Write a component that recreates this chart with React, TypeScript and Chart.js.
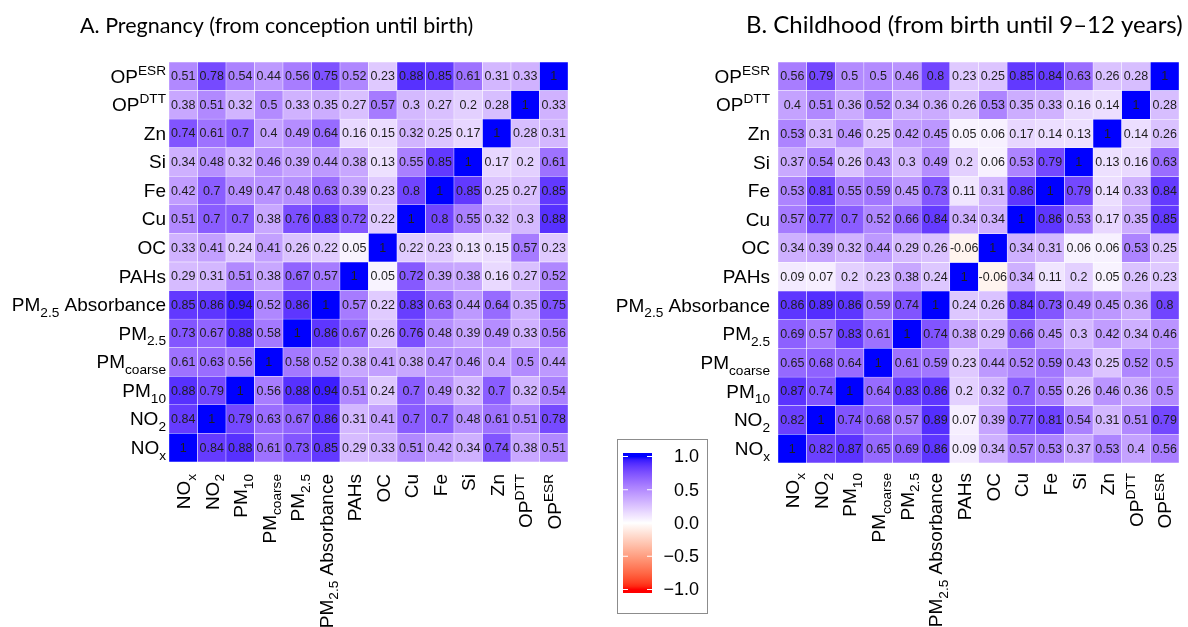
import React, { useEffect, useRef } from "react";
import { Chart, registerables } from "chart.js";

Chart.register(...registerables);

// ---------- categories ----------
const variables = [
  "NOx", "NO2", "PM10", "PMcoarse", "PM2.5", "PM2.5 Absorbance", "PAHs",
  "OC", "Cu", "Fe", "Si", "Zn", "OPDTT", "OPESR",
];

// rich label segments (n = normal, sub = subscript, sup = superscript)
const labelSegments: { text: string; kind: "n" | "sub" | "sup" }[][] = [
  [{ text: "NO", kind: "n" }, { text: "x", kind: "sub" }],
  [{ text: "NO", kind: "n" }, { text: "2", kind: "sub" }],
  [{ text: "PM", kind: "n" }, { text: "10", kind: "sub" }],
  [{ text: "PM", kind: "n" }, { text: "coarse", kind: "sub" }],
  [{ text: "PM", kind: "n" }, { text: "2.5", kind: "sub" }],
  [{ text: "PM", kind: "n" }, { text: "2.5", kind: "sub" }, { text: " Absorbance", kind: "n" }],
  [{ text: "PAHs", kind: "n" }],
  [{ text: "OC", kind: "n" }],
  [{ text: "Cu", kind: "n" }],
  [{ text: "Fe", kind: "n" }],
  [{ text: "Si", kind: "n" }],
  [{ text: "Zn", kind: "n" }],
  [{ text: "OP", kind: "n" }, { text: "DTT", kind: "sup" }],
  [{ text: "OP", kind: "n" }, { text: "ESR", kind: "sup" }],
];

// ---------- A. Pregnancy (rows, columns in order of `variables`) ----------
const pregNOx = [1, 0.84, 0.88, 0.61, 0.73, 0.85, 0.29, 0.33, 0.51, 0.42, 0.34, 0.74, 0.38, 0.51];
const pregNO2 = [0.84, 1, 0.79, 0.63, 0.67, 0.86, 0.31, 0.41, 0.7, 0.7, 0.48, 0.61, 0.51, 0.78];
const pregPM10 = [0.88, 0.79, 1, 0.56, 0.88, 0.94, 0.51, 0.24, 0.7, 0.49, 0.32, 0.7, 0.32, 0.54];
const pregPMcoarse = [0.61, 0.63, 0.56, 1, 0.58, 0.52, 0.38, 0.41, 0.38, 0.47, 0.46, 0.4, 0.5, 0.44];
const pregPM25 = [0.73, 0.67, 0.88, 0.58, 1, 0.86, 0.67, 0.26, 0.76, 0.48, 0.39, 0.49, 0.33, 0.56];
const pregPM25Abs = [0.85, 0.86, 0.94, 0.52, 0.86, 1, 0.57, 0.22, 0.83, 0.63, 0.44, 0.64, 0.35, 0.75];
const pregPAHs = [0.29, 0.31, 0.51, 0.38, 0.67, 0.57, 1, 0.05, 0.72, 0.39, 0.38, 0.16, 0.27, 0.52];
const pregOC = [0.33, 0.41, 0.24, 0.41, 0.26, 0.22, 0.05, 1, 0.22, 0.23, 0.13, 0.15, 0.57, 0.23];
const pregCu = [0.51, 0.7, 0.7, 0.38, 0.76, 0.83, 0.72, 0.22, 1, 0.8, 0.55, 0.32, 0.3, 0.88];
const pregFe = [0.42, 0.7, 0.49, 0.47, 0.48, 0.63, 0.39, 0.23, 0.8, 1, 0.85, 0.25, 0.27, 0.85];
const pregSi = [0.34, 0.48, 0.32, 0.46, 0.39, 0.44, 0.38, 0.13, 0.55, 0.85, 1, 0.17, 0.2, 0.61];
const pregZn = [0.74, 0.61, 0.7, 0.4, 0.49, 0.64, 0.16, 0.15, 0.32, 0.25, 0.17, 1, 0.28, 0.31];
const pregOPDTT = [0.38, 0.51, 0.32, 0.5, 0.33, 0.35, 0.27, 0.57, 0.3, 0.27, 0.2, 0.28, 1, 0.33];
const pregOPESR = [0.51, 0.78, 0.54, 0.44, 0.56, 0.75, 0.52, 0.23, 0.88, 0.85, 0.61, 0.31, 0.33, 1];

// ---------- B. Childhood ----------
const childNOx = [1, 0.82, 0.87, 0.65, 0.69, 0.86, 0.09, 0.34, 0.57, 0.53, 0.37, 0.53, 0.4, 0.56];
const childNO2 = [0.82, 1, 0.74, 0.68, 0.57, 0.89, 0.07, 0.39, 0.77, 0.81, 0.54, 0.31, 0.51, 0.79];
const childPM10 = [0.87, 0.74, 1, 0.64, 0.83, 0.86, 0.2, 0.32, 0.7, 0.55, 0.26, 0.46, 0.36, 0.5];
const childPMcoarse = [0.65, 0.68, 0.64, 1, 0.61, 0.59, 0.23, 0.44, 0.52, 0.59, 0.43, 0.25, 0.52, 0.5];
const childPM25 = [0.69, 0.57, 0.83, 0.61, 1, 0.74, 0.38, 0.29, 0.66, 0.45, 0.3, 0.42, 0.34, 0.46];
const childPM25Abs = [0.86, 0.89, 0.86, 0.59, 0.74, 1, 0.24, 0.26, 0.84, 0.73, 0.49, 0.45, 0.36, 0.8];
const childPAHs = [0.09, 0.07, 0.2, 0.23, 0.38, 0.24, 1, -0.06, 0.34, 0.11, 0.2, 0.05, 0.26, 0.23];
const childOC = [0.34, 0.39, 0.32, 0.44, 0.29, 0.26, -0.06, 1, 0.34, 0.31, 0.06, 0.06, 0.53, 0.25];
const childCu = [0.57, 0.77, 0.7, 0.52, 0.66, 0.84, 0.34, 0.34, 1, 0.86, 0.53, 0.17, 0.35, 0.85];
const childFe = [0.53, 0.81, 0.55, 0.59, 0.45, 0.73, 0.11, 0.31, 0.86, 1, 0.79, 0.14, 0.33, 0.84];
const childSi = [0.37, 0.54, 0.26, 0.43, 0.3, 0.49, 0.2, 0.06, 0.53, 0.79, 1, 0.13, 0.16, 0.63];
const childZn = [0.53, 0.31, 0.46, 0.25, 0.42, 0.45, 0.05, 0.06, 0.17, 0.14, 0.13, 1, 0.14, 0.26];
const childOPDTT = [0.4, 0.51, 0.36, 0.52, 0.34, 0.36, 0.26, 0.53, 0.35, 0.33, 0.16, 0.14, 1, 0.28];
const childOPESR = [0.56, 0.79, 0.5, 0.5, 0.46, 0.8, 0.23, 0.25, 0.85, 0.84, 0.63, 0.26, 0.28, 1];

const legendTicks = [1, 0.5, 0, -0.5, -1];

const titleA = "A. Pregnancy (from conception until birth)";
const titleB = "B. Childhood (from birth until 9\u201312 years)";

// matrices: row order bottom (NOx) to top (OPESR)
const pregnancyMatrix = [
  pregNOx, pregNO2, pregPM10, pregPMcoarse, pregPM25, pregPM25Abs, pregPAHs,
  pregOC, pregCu, pregFe, pregSi, pregZn, pregOPDTT, pregOPESR,
];
const childhoodMatrix = [
  childNOx, childNO2, childPM10, childPMcoarse, childPM25, childPM25Abs, childPAHs,
  childOC, childCu, childFe, childSi, childZn, childOPDTT, childOPESR,
];

// ---------- colour: Lab interpolation red - white - blue ----------
const Xn = 0.95047, Yn = 1.0, Zn = 1.08883;
function toLin(c: number) {
  c /= 255;
  return c <= 0.04045 ? c / 12.92 : Math.pow((c + 0.055) / 1.055, 2.4);
}
function fromLin(c: number) {
  c = Math.min(1, Math.max(0, c));
  return 255 * (c <= 0.0031308 ? 12.92 * c : 1.055 * Math.pow(c, 1 / 2.4) - 0.055);
}
function rgbToLab(rgb: number[]) {
  const r = toLin(rgb[0]), g = toLin(rgb[1]), b = toLin(rgb[2]);
  const X = 0.4124564 * r + 0.3575761 * g + 0.1804375 * b;
  const Y = 0.2126729 * r + 0.7151522 * g + 0.072175 * b;
  const Z = 0.0193339 * r + 0.119192 * g + 0.9503041 * b;
  const f = (t: number) => (t > 216 / 24389 ? Math.cbrt(t) : (24389 / 27 * t + 16) / 116);
  const fx = f(X / Xn), fy = f(Y / Yn), fz = f(Z / Zn);
  return [116 * fy - 16, 500 * (fx - fy), 200 * (fy - fz)];
}
function labToRgb(lab: number[]) {
  const fy = (lab[0] + 16) / 116;
  const fx = fy + lab[1] / 500;
  const fz = fy - lab[2] / 200;
  const inv = (t: number) => (t * t * t > 216 / 24389 ? t * t * t : (116 * t - 16) / (24389 / 27));
  const X = Xn * inv(fx), Y = Yn * inv(fy), Z = Zn * inv(fz);
  const r = 3.2404542 * X - 1.5371385 * Y - 0.4985314 * Z;
  const g = -0.969266 * X + 1.8760108 * Y + 0.041556 * Z;
  const b = 0.0556434 * X - 0.2040259 * Y + 1.0572252 * Z;
  return [fromLin(r), fromLin(g), fromLin(b)];
}
const LAB_WHITE = rgbToLab([255, 255, 255]);
const LAB_BLUE = rgbToLab([0, 0, 255]);
const LAB_RED = rgbToLab([255, 0, 0]);
function corrColor(v: number) {
  const t = Math.min(1, Math.abs(v));
  const end = v >= 0 ? LAB_BLUE : LAB_RED;
  const lab = LAB_WHITE.map((w, i) => w + (end[i] - w) * t);
  const [r, g, b] = labToRgb(lab);
  return `rgb(${Math.round(r)},${Math.round(g)},${Math.round(b)})`;
}

// ---------- text helpers ----------
const FONT = '"Liberation Sans", Arial, Helvetica, sans-serif';
const TITLE_FONT = 'Lato, "Open Sans", sans-serif';
const LABEL_SIZE = 19;
const CELL_SIZE = 12.5;

function drawRich(
  ctx: CanvasRenderingContext2D,
  segs: { text: string; kind: string }[],
  x: number,
  y: number,
  fs: number,
  align: "left" | "right" | "center"
) {
  const parts = segs.map((s) => ({ ...s, size: s.kind === "n" ? fs : fs * 0.72, w: 0 }));
  let total = 0;
  for (const p of parts) {
    ctx.font = `${p.size}px ${FONT}`;
    p.w = ctx.measureText(p.text).width;
    total += p.w;
  }
  let cx = align === "right" ? x - total : align === "center" ? x - total / 2 : x;
  const base = y + fs * 0.716 / 2;
  ctx.textAlign = "left";
  ctx.textBaseline = "alphabetic";
  for (const p of parts) {
    ctx.font = `${p.size}px ${FONT}`;
    const dy = p.kind === "sub" ? fs * 0.3 : p.kind === "sup" ? -fs * 0.42 : 0;
    ctx.fillText(p.text, cx, base + dy);
    cx += p.w;
  }
}

type PanelOpts = {
  padding: { left: number; right: number; top: number; bottom: number };
  title: string;
  titleX: number;
  titleSize: number;
  rowGap: number;
  colGap: number;
  legendX?: number;
};

function makeChart(canvas: HTMLCanvasElement, matrix: number[][], opts: PanelOpts) {
  const labelsPlugin = {
    id: "heatLabels",
    afterDatasetsDraw(chart: any) {
      const ctx: CanvasRenderingContext2D = chart.ctx;
      ctx.save();
      ctx.fillStyle = "#1e1e1e";
      ctx.font = `${CELL_SIZE}px ${FONT}`;
      ctx.textAlign = "center";
      ctx.textBaseline = "middle";
      chart.data.datasets.forEach((ds: any, i: number) => {
        const meta = chart.getDatasetMeta(i);
        meta.data.forEach((el: any, j: number) => {
          const v = ds.corr[j];
          const p = el.getProps(["x", "y", "base"], true);
          ctx.fillText(String(v), p.x, (p.y + p.base) / 2 + 0.5);
        });
      });
      ctx.restore();
    },
    afterDraw(chart: any) {
      const ctx: CanvasRenderingContext2D = chart.ctx;
      const area = chart.chartArea;
      const xs = chart.scales.x;
      const ys = chart.scales.y;
      ctx.save();
      ctx.fillStyle = "#000000";
      // row labels
      variables.forEach((_, i) => {
        const y = ys.getPixelForValue(i + 0.5);
        drawRich(ctx, labelSegments[i], area.left - opts.rowGap, y - 0.5, LABEL_SIZE, "right");
      });
      // column labels (rotated)
      variables.forEach((_, i) => {
        const x = xs.getPixelForValue(i);
        ctx.save();
        ctx.translate(x, area.bottom + opts.colGap);
        ctx.rotate(-Math.PI / 2);
        drawRich(ctx, labelSegments[i], 0, 0, LABEL_SIZE, "right");
        ctx.restore();
      });
      // title
      ctx.font = `${opts.titleSize}px ${TITLE_FONT}`;
      ctx.textAlign = "left";
      ctx.textBaseline = "alphabetic";
      ctx.fillStyle = "#000000";
      ctx.fillText(opts.title, opts.titleX, 33);

      // colour legend
      if (opts.legendX !== undefined) {
        const lx = opts.legendX;
        const boxTop = 439, boxBottom = 613;
        ctx.strokeStyle = "#8c8c8c";
        ctx.lineWidth = 1;
        ctx.strokeRect(lx + 0.5, boxTop + 0.5, 90, boxBottom - boxTop);
        const barL = lx + 6, barW = 29, barTop = 453, barH = 140;
        const inset = 3.5;
        const yFor = (v: number) => barTop + inset + ((1 - v) / 2) * (barH - 2 * inset);
        const grad = ctx.createLinearGradient(0, barTop, 0, barTop + barH);
        for (let k = 0; k <= 40; k++) {
          const v = 1 - (k / 40) * 2;
          const pos = (yFor(v) - barTop) / barH;
          grad.addColorStop(Math.min(1, Math.max(0, pos)), corrColor(v));
        }
        ctx.fillStyle = grad;
        ctx.fillRect(barL, barTop, barW, barH);
        ctx.strokeStyle = "#ffffff";
        ctx.lineWidth = 1;
        ctx.font = `18px ${FONT}`;
        ctx.textAlign = "right";
        ctx.textBaseline = "middle";
        legendTicks.forEach((v) => {
          const y = yFor(v);
          ctx.beginPath();
          ctx.moveTo(barL, y);
          ctx.lineTo(barL + 5, y);
          ctx.moveTo(barL + barW - 5, y);
          ctx.lineTo(barL + barW, y);
          ctx.stroke();
          ctx.fillStyle = "#000000";
          const txt = v.toFixed(1).replace("-", "\u2212");
          ctx.fillText(txt, lx + 82, y + 1);
        });
      }
      ctx.restore();
    },
  };

  return new Chart(canvas, {
    type: "bar",
    data: {
      labels: variables,
      datasets: matrix.map((row, r) => ({
        label: variables[r],
        data: row.map(() => [r, r + 1]),
        corr: row,
        backgroundColor: row.map(corrColor),
        borderColor: "#ffffff",
        borderWidth: 0.5,
        borderSkipped: false,
        grouped: false,
        categoryPercentage: 1,
        barPercentage: 1,
      })) as any,
    },
    options: {
      responsive: false,
      maintainAspectRatio: false,
      animation: false,
      devicePixelRatio: 1,
      layout: { padding: opts.padding },
      plugins: {
        legend: { display: false },
        tooltip: { enabled: false },
        title: { display: false },
      },
      scales: {
        x: { type: "category", display: false, offset: true },
        y: { type: "linear", display: false, min: 0, max: variables.length },
      },
    },
    plugins: [labelsPlugin],
  } as any);
}

export default function App() {
  const leftRef = useRef<HTMLCanvasElement>(null);
  const rightRef = useRef<HTMLCanvasElement>(null);

  useEffect(() => {
    const c1 = makeChart(leftRef.current!, pregnancyMatrix, {
      padding: { left: 169, right: 32, top: 62, bottom: 165 },
      title: titleA,
      titleX: 80,
      titleSize: 21.5,
      rowGap: 3,
      colGap: 12,
    });
    const c2 = makeChart(rightRef.current!, childhoodMatrix, {
      padding: { left: 178, right: 9, top: 62, bottom: 164 },
      title: titleB,
      titleX: 146,
      titleSize: 24,
      rowGap: 8,
      colGap: 10,
      legendX: 17,
    });
    return () => {
      c1.destroy();
      c2.destroy();
    };
  }, []);

  return (
    <div style={{ position: "absolute", left: 0, top: 0, width: 1188, height: 627, background: "#ffffff" }}>
      <canvas
        ref={leftRef}
        width={600}
        height={627}
        style={{ position: "absolute", left: 0, top: 0, width: 600, height: 627 }}
      />
      <canvas
        ref={rightRef}
        width={588}
        height={627}
        style={{ position: "absolute", left: 600, top: 0, width: 588, height: 627 }}
      />
    </div>
  );
}
